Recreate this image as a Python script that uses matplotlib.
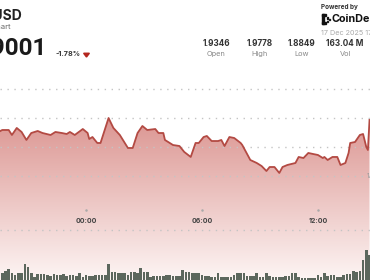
import matplotlib.pyplot as plt
import numpy as np
from matplotlib.patches import Rectangle, RegularPolygon

plt.rcParams['font.family'] = ['Inter', 'DejaVu Sans']

# minutes from 00:00 and XRP/USD price
price_times = [-270, -260, -240, -230, -215, -200, -185, -170, -150, -135,
               -110, -95, -75, -60, -50, -35, -10, 5, 10, 20,
               35, 45, 70, 85, 105, 130, 145, 160, 175, 190,
               215, 225, 240, 245, 270, 290, 305, 325, 340, 350,
               365, 375, 390, 410, 420, 430, 445, 460, 480, 485,
               510, 530, 545, 560, 570, 585, 600, 610, 625, 650,
               660, 675, 690, 705, 720, 735, 740, 750, 765, 780,
               790, 805, 815, 820, 835, 850, 860, 870, 875, 880]
prices = [1.9564, 1.9593, 1.9593, 1.9507, 1.9628, 1.9559, 1.9421, 1.9541, 1.9576, 1.9541,
          1.9507, 1.9559, 1.9541, 1.9524, 1.9559, 1.9507, 1.9610, 1.9541, 1.9438, 1.9472,
          1.9369, 1.9369, 1.9800, 1.9628, 1.9507, 1.9283, 1.9283, 1.9541, 1.9662, 1.9593,
          1.9610, 1.9541, 1.9541, 1.9421, 1.9334, 1.9317, 1.9214, 1.9128, 1.9369, 1.9369,
          1.9472, 1.9490, 1.9403, 1.9403, 1.9421, 1.9317, 1.9472, 1.9455, 1.9369, 1.9334,
          1.9076, 1.9024, 1.8972, 1.8886, 1.8955, 1.8955, 1.8852, 1.8955, 1.8990, 1.9024,
          1.9128, 1.9110, 1.9197, 1.9179, 1.9162, 1.9110, 1.9128, 1.9076, 1.9128, 1.9128,
          1.8990, 1.9024, 1.9197, 1.9369, 1.9386, 1.9507, 1.9524, 1.9300, 1.9248, 1.9766]

# 10-minute volume bars, millions
volume = [1.4, 1.8, 2.2, 1.4, 1.0, 1.4, 1.4, 3.2, 2.6, 1.4,
          0.6, 1.2, 1.2, 1.2, 1.0, 0.8, 1.2, 1.0, 1.0, 1.2,
          0.8, 1.0, 1.0, 0.8, 1.4, 0.6, 1.0, 0.8, 0.8, 1.0,
          1.0, 1.0, 1.0, 3.2, 1.6, 1.6, 1.4, 1.4, 1.4, 1.0,
          1.6, 1.6, 1.4, 2.4, 1.6, 1.6, 0.6, 0.8, 0.8, 0.8,
          0.8, 1.0, 1.0, 0.8, 0.8, 0.8, 2.0, 1.6, 1.6, 1.4,
          1.4, 1.4, 1.0, 0.8, 0.8, 0.6, 0.6, 1.4, 0.6, 0.6,
          0.6, 0.6, 1.0, 1.4, 1.4, 1.4, 0.8, 0.8, 0.8, 1.4,
          0.6, 0.6, 1.4, 0.8, 0.6, 0.6, 0.6, 0.6, 0.8, 0.8,
          1.4, 1.4, 0.6, 0.4, 0.4, 0.4, 0.4, 0.4, 1.0, 0.6,
          1.4, 0.8, 1.0, 1.0, 0.6, 0.6, 1.0, 1.2, 1.2, 1.8,
          1.6, 1.8, 4.0, 6.0, 5.0]
volume_times = np.arange(-260, 890, 10)

tick_times = [0, 360, 720]
tick_labels = ['00:00', '06:00', '12:00']
grid_levels = [1.88, 1.93, 1.98, 2.03]

stat_values = ['1.9346', '1.9778', '1.8849', '163.04 M']
stat_names = ['Open', 'High', 'Low', 'Vol']

W, H = 370, 280
fig = plt.figure(figsize=(W / 100, H / 100), dpi=100)


def fx(px):
    return px / W


def fy(py):
    return 1 - py / H


# ---- price area ----
ax = fig.add_axes([0, 0, 1, 1])
ax.set_xlim(-267, 881.5)
ax.set_ylim(1.7007, 2.1834)
ax.axis('off')

for g in grid_levels:
    ax.axhline(g, color='#c4c4c4', lw=1.0, linestyle=(0, (1, 4)), zorder=3)
ax.plot([0, 1], [fy(230), fy(230)], transform=ax.transAxes,
        color='#c4c4c4', lw=1.0, linestyle=(0, (1, 4)), zorder=3)

fill = ax.fill_between(price_times, prices, 1.7007, color='none', zorder=1)
grad = np.linspace(0, 1, 256)[:, None]
top_c = np.array([219, 148, 144]) / 255
bot_c = np.array([253, 245, 244]) / 255
img = top_c[None, None, :] * (1 - grad[:, :, None]) + bot_c[None, None, :] * grad[:, :, None]
im = ax.imshow(img, extent=[-267, 881.5, 1.7007, 1.985], aspect='auto',
               zorder=2, origin='upper')
im.set_clip_path(fill.get_paths()[0], transform=ax.transData)
ax.set_xlim(-267, 881.5)
ax.set_ylim(1.7007, 2.1834)

ax.plot(price_times, prices, color='#b34a43', lw=1.3, zorder=4,
        solid_joinstyle='round')

for t, lab in zip(tick_times, tick_labels):
    ax.plot(t, fy(210), marker='o', ms=0.8, color='#aaaaaa',
            transform=ax.get_xaxis_transform(), zorder=5)
    ax.text(t, fy(221), lab, transform=ax.get_xaxis_transform(),
            ha='center', va='center', fontsize=5, fontweight='bold',
            color='#444444', zorder=5)
ax.text(0.992, 1.88, '1.88', transform=ax.get_yaxis_transform(),
        ha='left', va='center', fontsize=4.5, color='#999999', zorder=5)

# ---- volume ----
vax = fig.add_axes([0, 0, 1, 42 / H])
vax.set_xlim(-267, 881.5)
vax.set_ylim(0, 8.4)
vax.patch.set_alpha(0)
vax.axis('off')
vax.bar(volume_times, volume, width=8, color='#5c675d', linewidth=0)

# ---- header ----
fig.text(fx(22), fy(16), 'XRP/USD', ha='right', va='center', fontsize=10,
         fontweight='bold', color='#222222')
fig.text(fx(10), fy(27), 'Price Chart', ha='right', va='center',
         fontsize=5.5, color='#666666')
fig.text(fx(47), fy(48.5), '$1.9001', ha='right', va='center', fontsize=17.5,
         fontweight='bold', color='#1a1a1a', family=['Roboto', 'DejaVu Sans'])
fig.text(fx(55), fy(53.5), '-1.78%', ha='left', va='center', fontsize=5.2,
         fontweight='bold', color='#333333')
fig.patches.append(RegularPolygon((fx(86.5), fy(54.5)), 3, radius=0.009,
                                  orientation=np.pi, color='#b3261e',
                                  transform=fig.transFigure))

stat_x = [216, 260, 302, 345]
for x, v, n in zip(stat_x, stat_values, stat_names):
    fig.text(fx(x), fy(43.5), v, ha='center', va='center', fontsize=5.9,
             fontweight='bold', color='#333333')
    fig.text(fx(x), fy(54), n, ha='center', va='center', fontsize=5.3,
             color='#888888')

fig.text(fx(321), fy(6.5), 'Powered by', ha='left', va='center',
         fontsize=4.6, fontweight='bold', color='#333333')
# small bracket-and-dots logo mark
logo = [(322, 14, 1.6, 10), (322, 14, 4, 1.6), (322, 22.4, 4, 1.6),
        (326.5, 17, 1.6, 1.6), (326.5, 20.5, 1.6, 1.6), (328.5, 18.7, 1.4, 1.4)]
for lx, ly, lw_, lh in logo:
    fig.patches.append(Rectangle((fx(lx), fy(ly + lh)), lw_ / W, lh / H,
                                 color='#111111', transform=fig.transFigure))
fig.text(fx(331.5), fy(19), 'CoinDesk', ha='left', va='center', fontsize=7.8,
         fontweight='bold', color='#111111')
fig.text(fx(321), fy(33), '17 Dec 2025 17:00', ha='left', va='center',
         fontsize=5.2, color='#aaaaaa')

fig.savefig('out.png', dpi=100)
